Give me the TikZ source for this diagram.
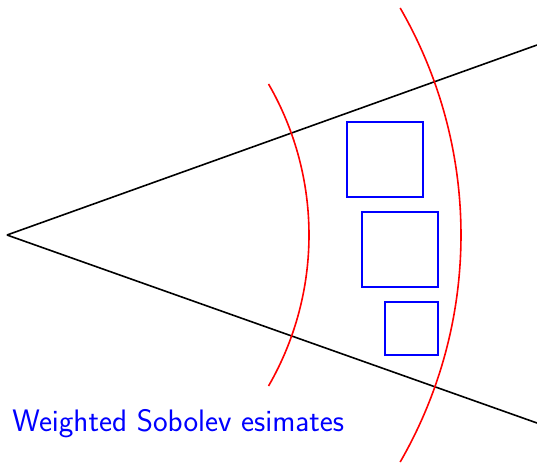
\documentclass[tikz,border=0pt]{standalone}
\usepackage{tikz}

\begin{document}
\begin{tikzpicture}[x=0.75pt,y=0.75pt,yscale=-1,xscale=1]

	\useasboundingbox (0,0) rectangle (537,462);

	%%CONE---------------------------------------------
	%%Apex
	\coordinate (apex) at (7,235);
	%%Upper edge
	\draw [color=black, line width=1.2pt]   (apex) -- (537,45) ;
	%%Lower edge
	\draw [color=black, line width=1.2pt]   (apex) -- (537,423) ;

	%%ARCS---------------------------------------------
	%%Inner arc
	\draw [color=red, line width=1.2pt]   (apex) ++(-30:302) arc (-30:30:302) ;
	%%Outer arc
	\draw [color=red, line width=1.2pt]   (apex) ++(-30:454) arc (-30:30:454) ;

	%%BOXES---------------------------------------------
	%Top box
	\draw [color=blue, line width=1.2pt]   (347,122) rectangle (423,197) ;
	%Middle box
	\draw [color=blue, line width=1.2pt]   (362,212) rectangle (438,287) ;
	%Bottom box
	\draw [color=blue, line width=1.2pt]   (385,302) rectangle (438,355) ;

	% Text Node
	\draw (12,424) node (label) [anchor=west][inner sep=0pt]  {\color{blue}\fontsize{23.3}{27}\sffamily Weighted Sobolev esimates};

\end{tikzpicture}
\end{document}
